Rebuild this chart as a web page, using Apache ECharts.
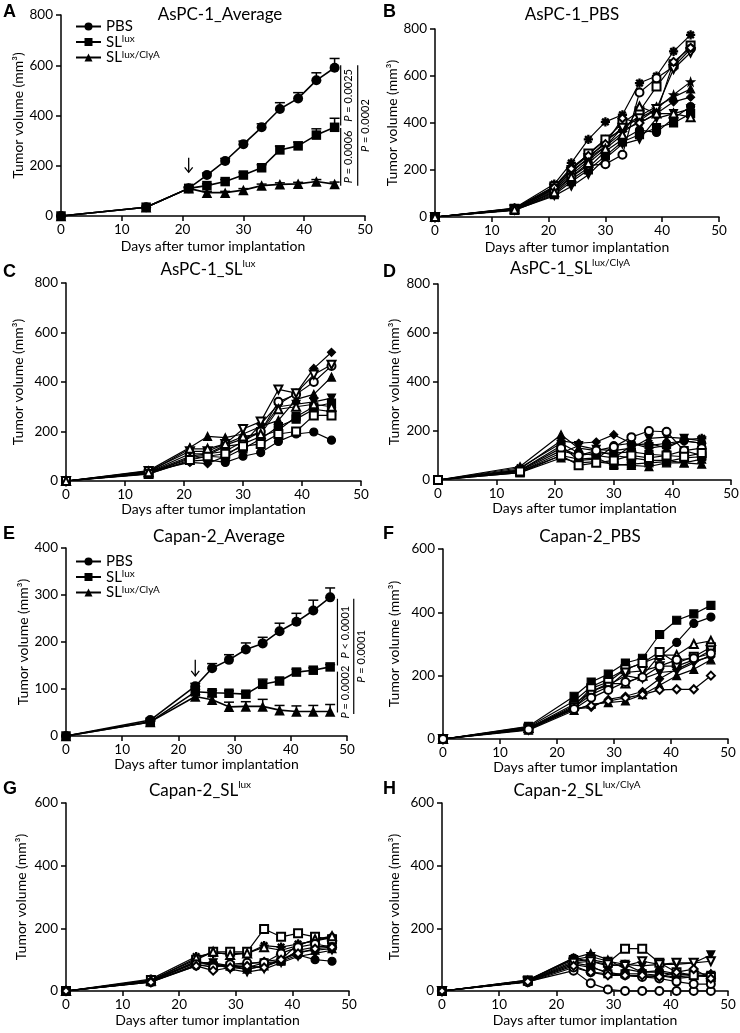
<!DOCTYPE html>
<html><head><meta charset="utf-8">
<script src="https://cdn.jsdelivr.net/npm/echarts@6/dist/echarts.min.js"></script>
<style>html,body{margin:0;padding:0;background:#fff}#c{width:740px;height:1033px}</style>
</head><body><div id="c"></div>
<script>
// ---------------- DATA ----------------
const daysAsPC = [0,14,21,24,27,30,33,36,39,42,45];
const daysCapan = [0,15,23,26,29,32,35,38,41,44,47];

// Panel A (AsPC-1 average, mean + SEM)
const aPBS     = [0,35,110,163,219,286,353,426,468,540,590];
const aPBSerr  = [0,0,5,8,10,12,14,25,23,30,37];
const aSL      = [0,35,110,121,137,163,192,263,279,322,353];
const aSLerr   = [0,0,5,7,8,10,12,15,15,25,36];
const aClyA    = [0,35,110,93,93,103,121,126,128,137,127];
const aClyAerr = [0,0,5,5,5,6,6,6,6,8,8];

// Panel E (Capan-2 average, mean + SEM)
const ePBS     = [0,34,106,144,162,184,197,223,243,267,295];
const ePBSerr  = [0,2,6,10,11,14,13,17,18,22,20];
const eSL      = [0,30,94,92,91,89,110,117,136,140,147];
const eSLerr   = [0,2,5,5,5,5,11,6,6,5,5];
const eClyA    = [0,30,84,77,62,63,63,55,52,52,52];
const eClyAerr = [0,2,4,6,10,10,15,10,12,13,15];

// P values
const pValuesA = ['= 0.0025','= 0.0006','= 0.0002'];
const pValuesE = ['< 0.0001','= 0.0002','= 0.0001'];

// Individual mice
const bMice = [
  [0,38,140,230,330,405,435,570,600,705,775],
  [0,35,130,200,270,330,400,450,555,650,730],
  [0,30,110,170,220,225,265,530,590,640,715],
  [0,32,120,190,250,300,380,420,460,630,700],
  [0,36,125,205,260,310,420,400,440,660,720],
  [0,33,115,180,240,300,360,410,460,520,575],
  [0,34,120,195,250,320,380,430,470,510,545],
  [0,37,130,210,265,330,370,400,440,490,510],
  [0,30,100,160,210,280,330,370,360,420,470],
  [0,28,95,150,200,260,320,350,380,400,440],
  [0,30,90,130,180,250,310,330,420,440,460],
  [0,32,105,170,230,290,350,470,440,440,425]
];
const cMice = [
  [0,38,75,70,100,150,230,310,355,455,520],
  [0,35,110,110,145,170,200,320,350,400,465],
  [0,40,120,120,150,210,240,370,355,430,470],
  [0,42,135,180,175,190,220,245,330,350,420],
  [0,33,100,110,120,160,200,300,310,320,335],
  [0,30,95,105,140,150,180,205,260,300,315],
  [0,28,85,100,110,140,150,190,200,265,265],
  [0,30,80,85,75,100,115,160,190,198,165],
  [0,35,130,130,150,180,190,290,300,310,300],
  [0,32,90,100,95,130,170,220,250,290,280]
];
const dMice = [
  [0,40,130,100,120,135,175,200,197,120,130],
  [0,45,160,150,155,185,150,130,140,160,150],
  [0,55,185,130,120,100,90,80,80,70,65],
  [0,50,150,110,100,90,140,150,130,165,170],
  [0,30,100,85,90,60,65,70,75,90,95],
  [0,35,110,140,125,120,130,170,175,170,160],
  [0,40,140,80,85,140,150,140,150,160,150],
  [0,35,100,60,70,80,100,90,100,95,110],
  [0,30,90,70,75,65,60,55,70,70,85],
  [0,38,120,100,110,110,115,105,100,120,100]
];
const fMice = [
  [0,40,135,180,205,240,255,330,375,395,422],
  [0,38,120,165,190,220,240,260,305,365,385],
  [0,35,110,150,175,175,200,265,265,300,310],
  [0,33,105,160,180,220,240,275,240,260,290],
  [0,30,100,140,165,210,215,230,230,250,280],
  [0,35,95,100,125,135,150,190,220,245,260],
  [0,28,90,110,115,120,140,170,200,220,250],
  [0,32,95,105,120,130,140,155,157,157,200],
  [0,36,100,150,170,200,190,210,215,240,265],
  [0,30,95,130,155,180,195,230,250,255,270]
];
const gMice = [
  [0,35,100,125,125,125,198,173,184,173,165],
  [0,38,110,120,120,120,145,140,150,160,170],
  [0,33,105,125,115,120,140,130,145,165,175],
  [0,30,90,90,80,85,95,100,150,160,175],
  [0,28,85,75,85,90,90,120,140,150,140],
  [0,30,80,85,75,70,80,95,115,100,95],
  [0,35,90,90,70,60,70,90,110,120,130],
  [0,32,95,80,80,75,90,95,130,140,145],
  [0,28,80,65,75,80,75,100,120,135,140],
  [0,30,95,85,80,70,80,100,125,130,135]
];
const hMice = [
  [0,30,65,25,5,0,0,0,0,0,0],
  [0,33,95,100,90,135,135,90,60,50,45],
  [0,35,100,110,95,85,80,85,85,90,115],
  [0,30,90,95,85,80,95,85,90,90,95],
  [0,35,105,120,100,70,60,60,50,55,55],
  [0,33,105,95,80,85,60,65,55,50,45],
  [0,30,85,75,60,50,45,50,40,45,55],
  [0,28,75,60,55,50,45,40,30,22,22],
  [0,32,90,80,55,55,55,50,45,50,50],
  [0,30,80,60,50,50,50,45,60,70,40]
];

// ---------------- STYLE / LAYOUT ----------------
const F = 'Lato, "Liberation Sans", sans-serif';
const ASTER = 'path://M-0.7,-5L0.7,-5L0.7,5L-0.7,5Z M-5,-0.7L5,-0.7L5,0.7L-5,0.7Z M3.045,4.035L4.035,3.045L-3.045,-4.035L-4.035,-3.045Z M4.035,-3.045L3.045,-4.035L-4.035,3.045L-3.045,4.035Z';
const STAR = 'path://M0,-5L1.18,-1.62L4.76,-1.55L1.9,0.62L2.94,4.05L0,2L-2.94,4.05L-1.9,0.62L-4.76,-1.55L-1.18,-1.62Z';
const S = {
  c:['circle',0], ec:['emptyCircle',0], r:['rect',0], er:['emptyRect',0],
  t:['triangle',0], et:['emptyTriangle',0], ti:['triangle',180], eti:['emptyTriangle',180],
  d:['diamond',0], ed:['emptyDiamond',0], a:[ASTER,0], s:[STAR,0]
};
const symB = ['a','er','ec','eti','ed','s','t','d','c','r','ti','et'];
const symC = ['d','ec','eti','t','ti','r','er','c','et','r'];
const symD = ['ec','d','t','a','r','ti','c','er','t','r'];
const symF = ['r','c','et','er','eti','d','t','ed','ti','ec'];
const symG = ['er','a','et','d','ec','c','ti','r','ed','t'];
const symH = ['ec','er','ti','eti','t','c','d','ec','r','ed'];

const panels = [
  {L:'A', grid:{left:61,top:15,width:304,height:201}, ymax:800, yint:200, yGap:34, xGap:23, title:'{a|AsPC-1_Average}', tx:220, ty:4, lx:3, ly:3},
  {L:'B', grid:{left:435,top:29,width:284,height:188}, ymax:800, yint:200, yGap:35, xGap:23, title:'{a|AsPC-1_PBS}', tx:572, ty:4, lx:383, ly:3},
  {L:'C', grid:{left:66,top:283,width:295,height:198}, ymax:800, yint:200, yGap:41, xGap:18, title:'{a|AsPC-1_SL}{s|lux}', tx:208, ty:259, lx:3, ly:263},
  {L:'D', grid:{left:438,top:284,width:293,height:196}, ymax:800, yint:200, yGap:37, xGap:18, title:'{a|AsPC-1_SL}{s|lux/ClyA}', tx:570, ty:258, lx:383, ly:263},
  {L:'E', grid:{left:66,top:548,width:281,height:188}, ymax:400, yint:100, yGap:33, xGap:17, title:'{a|Capan-2_Average}', tx:219, ty:526, lx:3, ly:525},
  {L:'F', grid:{left:443,top:549,width:285,height:190}, ymax:600, yint:200, yGap:42, xGap:17, title:'{a|Capan-2_PBS}', tx:590, ty:526, lx:383, ly:525},
  {L:'G', grid:{left:66,top:803,width:283,height:188}, ymax:600, yint:200, yGap:38, xGap:22, title:'{a|Capan-2_SL}{s|lux}', tx:200, ty:780, lx:3, ly:780},
  {L:'H', grid:{left:442,top:803,width:286,height:188}, ymax:600, yint:200, yGap:41, xGap:22, title:'{a|Capan-2_SL}{s|lux/ClyA}', tx:577, ty:780, lx:383, ly:780}
];

const richTitle = {
  a:{fontSize:17, lineHeight:22, fontFamily:F, color:'#000'},
  s:{fontSize:10, lineHeight:12, verticalAlign:'top', fontFamily:F, color:'#000'}
};

const grids = [], xAxes = [], yAxes = [], titles = [];
panels.forEach((p, gi) => {
  grids.push(Object.assign({containLabel:false, outerBoundsMode:'none'}, p.grid));
  const axBase = {
    axisLine:{show:true, onZero:false, lineStyle:{color:'#000', width:1.5}},
    axisTick:{show:true, length:5, lineStyle:{color:'#000', width:1.5}},
    axisLabel:{fontSize:13.5, color:'#000', fontFamily:F},
    splitLine:{show:false},
    nameLocation:'middle',
    nameTextStyle:{fontSize:14, color:'#000', fontFamily:F}
  };
  xAxes.push(Object.assign({}, axBase, {type:'value', gridIndex:gi, min:0, max:50, interval:10,
    name:'Days after tumor implantation', nameGap:p.xGap,
    axisLabel:Object.assign({}, axBase.axisLabel, {margin:7})}));
  yAxes.push(Object.assign({}, axBase, {type:'value', gridIndex:gi, min:0, max:p.ymax, interval:p.yint,
    name:'Tumor volume (mm³)', nameGap:p.yGap,
    axisLabel:Object.assign({}, axBase.axisLabel, {margin:8})}));
  titles.push({text:p.title, left:p.tx, top:p.ty, textAlign:'center', padding:0,
    textStyle:{fontSize:17, fontFamily:F, fontWeight:'normal', rich:richTitle}});
  titles.push({text:p.L, left:p.lx, top:p.ly, padding:0,
    textStyle:{fontSize:18, lineHeight:18, fontFamily:'"Liberation Sans", Arial, sans-serif', fontWeight:'bold', color:'#000'}});
});

const series = [];
function errItem(params, api){
  const x = api.value(0), y = api.value(1), e = api.value(2);
  if (!e) return null;
  const a = api.coord([x, y]), b = api.coord([x, y + e]);
  return {type:'group', children:[
    {type:'line', shape:{x1:a[0], y1:a[1], x2:b[0], y2:b[1]}, style:{stroke:'#000', lineWidth:1.5}},
    {type:'line', shape:{x1:b[0]-5, y1:b[1], x2:b[0]+5, y2:b[1]}, style:{stroke:'#000', lineWidth:1.5}}
  ]};
}
function meanSeries(gi, name, days, vals, errs, sym, size){
  series.push({type:'custom', xAxisIndex:gi, yAxisIndex:gi, renderItem:errItem, z:2, silent:true,
    data: days.map((d, i) => [d, vals[i], errs[i]])});
  series.push({type:'line', name, xAxisIndex:gi, yAxisIndex:gi, z:3, clip:false,
    data: days.map((d, i) => [d, vals[i]]), symbol:sym, symbolSize:size,
    lineStyle:{color:'#000', width:1.6}, itemStyle:{color:'#000'}});
}
function miceSeries(gi, days, mice, syms){
  mice.forEach((m, k) => {
    const s = S[syms[k % syms.length]];
    series.push({type:'line', name:'m' + gi + '_' + k, xAxisIndex:gi, yAxisIndex:gi, clip:false,
      data: days.map((d, i) => [d, m[i]]), symbol:s[0], symbolRotate:s[1], symbolSize:8,
      lineStyle:{color:'#000', width:1.2}, itemStyle:{color:'#000', borderColor:'#000', borderWidth:1.2}, z: s[0].indexOf('empty') === 0 ? 4 : 3});
  });
}
meanSeries(0, 'PBS', daysAsPC, aPBS, aPBSerr, 'circle', 10);
meanSeries(0, 'SLlux', daysAsPC, aSL, aSLerr, 'rect', 9.5);
meanSeries(0, 'SLclya', daysAsPC, aClyA, aClyAerr, 'triangle', 10.5);
miceSeries(1, daysAsPC, bMice, symB);
miceSeries(2, daysAsPC, cMice, symC);
miceSeries(3, daysAsPC, dMice, symD);
meanSeries(4, 'PBS', daysCapan, ePBS, ePBSerr, 'circle', 10);
meanSeries(4, 'SLlux', daysCapan, eSL, eSLerr, 'rect', 9.5);
meanSeries(4, 'SLclya', daysCapan, eClyA, eClyAerr, 'triangle', 10.5);
miceSeries(5, daysCapan, fMice, symF);
miceSeries(6, daysCapan, gMice, symG);
miceSeries(7, daysCapan, hMice, symH);

const legendNames = {PBS:'{a|PBS}', SLlux:'{a|SL}{s|lux}', SLclya:'{a|SL}{s|lux/ClyA}'};
const richLegend = {
  a:{fontSize:15, lineHeight:16, fontFamily:F, color:'#000'},
  s:{fontSize:10, lineHeight:10, verticalAlign:'top', fontFamily:F, color:'#000'}
};
function mkLegend(top){
  return {orient:'vertical', left:75, top, itemGap:0, itemWidth:25, itemHeight:10, padding:0,
    selectedMode:false, data:['PBS','SLlux','SLclya'],
    formatter: n => legendNames[n], textStyle:{rich:richLegend, fontFamily:F}};
}

const chart = echarts.init(document.getElementById('c'), null, {renderer:'canvas'});
chart.setOption({
  animation:false,
  backgroundColor:'#fff',
  title:titles,
  grid:grids, xAxis:xAxes, yAxis:yAxes,
  legend:[mkLegend(19), mkLegend(554)],
  series
});

// ---------------- ANNOTATIONS (positioned through the axes) ----------------
const g = [];
function P(gi, x, y){ return chart.convertToPixel({gridIndex:gi}, [x, y]); }
function bracket(gi, x, y1, y2, txt){
  const a = P(gi, x, y1), b = P(gi, x, y2);
  g.push({type:'line', shape:{x1:a[0], y1:a[1], x2:b[0], y2:b[1]}, style:{stroke:'#000', lineWidth:1.2}});
  g.push({type:'text', x:a[0] + 8, y:(a[1] + b[1]) / 2, rotation:Math.PI / 2,
    style:{text:'{i|P} ' + txt, fontSize:11, fontFamily:F, fill:'#000', align:'center', verticalAlign:'middle',
      rich:{i:{fontSize:11, fontStyle:'italic', fontFamily:F, color:'#000'}}}});
}
function arrow(gi, x, yTop, yBot){
  const a = P(gi, x, yTop), b = P(gi, x, yBot);
  g.push({type:'line', shape:{x1:a[0], y1:a[1], x2:b[0], y2:b[1]}, style:{stroke:'#000', lineWidth:1.3}});
  g.push({type:'polyline', shape:{points:[[b[0]-4, b[1]-5], [b[0], b[1]], [b[0]+4, b[1]-5]]}, style:{stroke:'#000', lineWidth:1.3, fill:'none'}});
}
bracket(0, 46.0, 360, 600, pValuesA[0]);
bracket(0, 46.0, 120, 350, pValuesA[1]);
bracket(0, 48.8, 120, 600, pValuesA[2]);
bracket(4, 48.3, 150, 292, pValuesE[0]);
bracket(4, 48.3, 50, 137, pValuesE[1]);
bracket(4, 51.2, 47, 292, pValuesE[2]);
arrow(0, 21, 232, 174);
arrow(4, 23, 162, 128);
chart.setOption({graphic:g});
</script></body></html>
